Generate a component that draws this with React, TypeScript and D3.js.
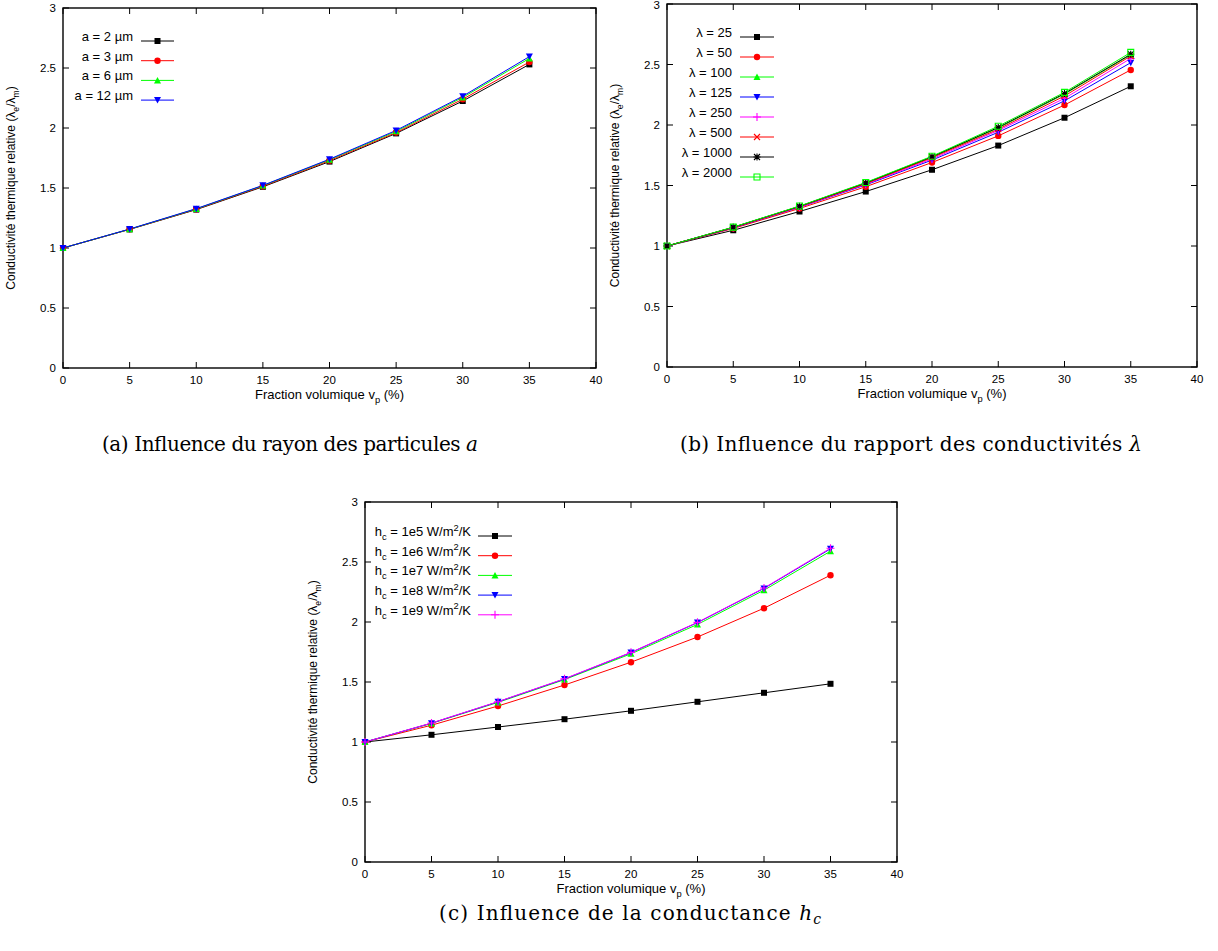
import React, { useEffect, useRef } from 'react';
import * as d3 from 'd3';

// shared axes
const fractions = [0, 5, 10, 15, 20, 25, 30, 35];
const xTicks = [0, 5, 10, 15, 20, 25, 30, 35, 40];
const yTicks = [0, 0.5, 1, 1.5, 2, 2.5, 3];
const xTitle = 'Fraction volumique v_{p} (%)';
const yTitle = 'Conductivité thermique relative (λ_{e}/λ_{m})';

// (a) particle radius
const radiusLabels = ['a = 2 µm', 'a = 3 µm', 'a = 6 µm', 'a = 12 µm'];
const radius2 = [1, 1.155, 1.32, 1.51, 1.72, 1.955, 2.225, 2.53];
const radius3 = [1, 1.156, 1.323, 1.515, 1.728, 1.962, 2.24, 2.55];
const radius6 = [1, 1.157, 1.326, 1.52, 1.736, 1.972, 2.255, 2.58];
const radius12 = [1, 1.158, 1.328, 1.522, 1.74, 1.98, 2.265, 2.595];

// (b) conductivity ratio
const ratioLabels = ['λ = 25', 'λ = 50', 'λ = 100', 'λ = 125', 'λ = 250', 'λ = 500', 'λ = 1000', 'λ = 2000'];
const ratio25 = [1, 1.13, 1.285, 1.45, 1.63, 1.83, 2.06, 2.32];
const ratio50 = [1, 1.145, 1.31, 1.49, 1.69, 1.91, 2.165, 2.455];
const ratio100 = [1, 1.154, 1.327, 1.52, 1.735, 1.975, 2.255, 2.58];
const ratio125 = [1, 1.15, 1.32, 1.505, 1.71, 1.94, 2.2, 2.515];
const ratio250 = [1, 1.152, 1.322, 1.51, 1.72, 1.955, 2.22, 2.55];
const ratio500 = [1, 1.153, 1.325, 1.515, 1.73, 1.965, 2.24, 2.57];
const ratio1000 = [1, 1.155, 1.328, 1.522, 1.738, 1.98, 2.26, 2.585];
const ratio2000 = [1, 1.156, 1.33, 1.525, 1.742, 1.99, 2.27, 2.6];

// (c) interface conductance
const conductLabels = [
  'h_{c} = 1e5 W/m^{2}/K',
  'h_{c} = 1e6 W/m^{2}/K',
  'h_{c} = 1e7 W/m^{2}/K',
  'h_{c} = 1e8 W/m^{2}/K',
  'h_{c} = 1e9 W/m^{2}/K',
];
const conduct1e5 = [1, 1.06, 1.125, 1.19, 1.26, 1.335, 1.41, 1.485];
const conduct1e6 = [1, 1.14, 1.3, 1.475, 1.665, 1.875, 2.115, 2.39];
const conduct1e7 = [1, 1.155, 1.33, 1.52, 1.735, 1.98, 2.265, 2.59];
const conduct1e8 = [1, 1.157, 1.335, 1.525, 1.745, 1.995, 2.28, 2.61];
const conduct1e9 = [1, 1.158, 1.336, 1.527, 1.747, 1.997, 2.283, 2.615];

const FONT = '"Liberation Sans", Arial, sans-serif';
const SERIF = '"DejaVu Serif", serif';

// write "x_{sub}" and "x^{sup}" as tspans
const rich = (sel, str, size) => {
  const re = /([_^])\{([^}]*)\}/g;
  let last = 0;
  let shift = 0;
  let m;
  const add = (t, off) => {
    if (!t) return;
    sel.append('tspan')
      .attr('dy', off - shift)
      .attr('font-size', off === 0 ? size : size * 0.72)
      .text(t);
    shift = off;
  };
  while ((m = re.exec(str))) {
    add(str.slice(last, m.index), 0);
    add(m[2], m[1] === '_' ? size * 0.3 : -size * 0.42);
    last = re.lastIndex;
  }
  add(str.slice(last), 0);
  if (shift !== 0) sel.append('tspan').attr('dy', -shift).text('');
};

const marker = (g, type, x, y, color) => {
  const s = 3;
  if (type === 'circle') {
    g.append('circle').attr('cx', x).attr('cy', y).attr('r', 3.2).attr('fill', color);
    return;
  }
  let d = '';
  let filled = true;
  if (type === 'square') d = `M${-s},${-s}h${2 * s}v${2 * s}h${-2 * s}Z`;
  if (type === 'triUp') d = `M0,${-s - 0.5}L${s + 0.5},${s}L${-s - 0.5},${s}Z`;
  if (type === 'triDown') d = `M0,${s + 0.5}L${s + 0.5},${-s}L${-s - 0.5},${-s}Z`;
  if (type === 'openSquare') { d = `M${-s},${-s}h${2 * s}v${2 * s}h${-2 * s}Z`; filled = false; }
  if (type === 'plus') { d = `M${-s - 1},0H${s + 1}M0,${-s - 1}V${s + 1}`; filled = false; }
  if (type === 'cross') { d = `M${-s},${-s}L${s},${s}M${-s},${s}L${s},${-s}`; filled = false; }
  if (type === 'star') { d = `M${-s - 0.5},0H${s + 0.5}M0,${-s - 0.5}V${s + 0.5}M${-s},${-s}L${s},${s}M${-s},${s}L${s},${-s}`; filled = false; }
  g.append('path')
    .attr('transform', `translate(${x},${y})`)
    .attr('d', d)
    .attr('fill', filled ? color : 'none')
    .attr('stroke', color)
    .attr('stroke-width', filled ? 0 : 1.1);
};

const panels = [
  {
    box: { left: 63, right: 596, top: 8, bottom: 368 },
    labels: radiusLabels,
    values: [radius2, radius3, radius6, radius12],
    colors: ['#000000', '#ff0000', '#00ff00', '#0000ff'],
    markers: ['square', 'circle', 'triUp', 'triDown'],
    legend: { textRight: 133, x1: 141, x2: 174, y0: 41, dy: 19.7 },
    caption: { x: 290, y: 451, width: 376, parts: [['(a) Influence du rayon des particules ', false], ['a', true]] },
  },
  {
    box: { left: 667, right: 1197, top: 4, bottom: 367 },
    labels: ratioLabels,
    values: [ratio25, ratio50, ratio100, ratio125, ratio250, ratio500, ratio1000, ratio2000],
    colors: ['#000000', '#ff0000', '#00ff00', '#0000ff', '#ff00ff', '#ff0000', '#000000', '#00ff00'],
    markers: ['square', 'circle', 'triUp', 'triDown', 'plus', 'cross', 'star', 'openSquare'],
    legend: { textRight: 732, x1: 740, x2: 774, y0: 37, dy: 20 },
    caption: { x: 911, y: 451, width: 462, parts: [['(b) Influence du rapport des conductivités ', false], ['λ', true]] },
  },
  {
    box: { left: 365, right: 897, top: 502, bottom: 862 },
    labels: conductLabels,
    values: [conduct1e5, conduct1e6, conduct1e7, conduct1e8, conduct1e9],
    colors: ['#000000', '#ff0000', '#00ff00', '#0000ff', '#ff00ff'],
    markers: ['square', 'circle', 'triUp', 'triDown', 'plus'],
    legend: { textRight: 471, x1: 478, x2: 512, y0: 536, dy: 19.7 },
    caption: { x: 630, y: 920, width: 382, parts: [['(c) Influence de la conductance ', false], ['h', true], ['c', true, 'sub']] },
  },
];

const Panel = ({ cfg }) => {
  const ref = useRef();

  useEffect(() => {
    const g = d3.select(ref.current);
    g.selectAll('*').remove();
    const { box } = cfg;

    const x = d3.scaleLinear().domain([0, 40]).range([box.left, box.right]);
    const y = d3.scaleLinear().domain([0, 3]).range([box.bottom, box.top]);
    const tick = 6;

    // ticks, mirrored on all four sides
    xTicks.forEach(t => {
      g.append('line').attr('x1', x(t)).attr('x2', x(t)).attr('y1', box.bottom).attr('y2', box.bottom - tick)
        .attr('stroke', '#000').attr('stroke-width', 1);
      g.append('line').attr('x1', x(t)).attr('x2', x(t)).attr('y1', box.top).attr('y2', box.top + tick)
        .attr('stroke', '#000').attr('stroke-width', 1);
      g.append('text')
        .attr('x', x(t))
        .attr('y', box.bottom + 16)
        .attr('text-anchor', 'middle')
        .attr('font-family', FONT)
        .attr('font-size', 11.5)
        .text(t);
    });
    yTicks.forEach(t => {
      g.append('line').attr('x1', box.left).attr('x2', box.left + tick).attr('y1', y(t)).attr('y2', y(t))
        .attr('stroke', '#000').attr('stroke-width', 1);
      g.append('line').attr('x1', box.right).attr('x2', box.right - tick).attr('y1', y(t)).attr('y2', y(t))
        .attr('stroke', '#000').attr('stroke-width', 1);
      g.append('text')
        .attr('x', box.left - 7)
        .attr('y', Math.max(y(t), 5))
        .attr('dy', '0.35em')
        .attr('text-anchor', 'end')
        .attr('font-family', FONT)
        .attr('font-size', 11.5)
        .text(t);
    });

    // frame
    g.append('rect')
      .attr('x', box.left)
      .attr('y', box.top)
      .attr('width', box.right - box.left)
      .attr('height', box.bottom - box.top)
      .attr('fill', 'none')
      .attr('stroke', '#000')
      .attr('stroke-width', 1.4);

    // axis titles
    const xt = g.append('text')
      .attr('x', (box.left + box.right) / 2)
      .attr('y', box.bottom + 31)
      .attr('text-anchor', 'middle')
      .attr('font-family', FONT)
      .attr('font-size', 13);
    rich(xt, xTitle, 13);

    const yt = g.append('text')
      .attr('transform', `translate(${box.left - 48},${(box.top + box.bottom) / 2}) rotate(-90)`)
      .attr('text-anchor', 'middle')
      .attr('font-family', FONT)
      .attr('font-size', 12);
    rich(yt, yTitle, 12);

    const line = d3.line()
      .x((d, i) => x(fractions[i]))
      .y(d => y(d));

    // series
    cfg.values.forEach((vals, k) => {
      g.append('path')
        .datum(vals)
        .attr('fill', 'none')
        .attr('stroke', cfg.colors[k])
        .attr('stroke-width', 1)
        .attr('d', line);
    });
    cfg.values.forEach((vals, k) => {
      vals.forEach((v, i) => marker(g, cfg.markers[k], x(fractions[i]), y(v), cfg.colors[k]));
    });

    // legend
    const lg = cfg.legend;
    cfg.labels.forEach((label, k) => {
      const ly = lg.y0 + k * lg.dy;
      const t = g.append('text')
        .attr('x', lg.textRight)
        .attr('y', ly)
        .attr('dy', '0.35em')
        .attr('text-anchor', 'end')
        .attr('font-family', FONT)
        .attr('font-size', 13);
      rich(t, label, 13);
      g.append('line')
        .attr('x1', lg.x1).attr('x2', lg.x2).attr('y1', ly).attr('y2', ly)
        .attr('stroke', cfg.colors[k]).attr('stroke-width', 1);
      marker(g, cfg.markers[k], (lg.x1 + lg.x2) / 2, ly, cfg.colors[k]);
    });

    // caption
    const cap = g.append('text')
      .attr('x', cfg.caption.x)
      .attr('y', cfg.caption.y)
      .attr('text-anchor', 'middle')
      .attr('font-family', SERIF)
      .attr('font-size', 20)
      .attr('textLength', cfg.caption.width)
      .attr('lengthAdjust', 'spacing');
    cfg.caption.parts.forEach(([txt, italic, pos]) => {
      const sp = cap.append('tspan').text(txt);
      if (italic) sp.attr('font-style', 'italic');
      if (pos === 'sub') sp.attr('dy', 4).attr('font-size', 14);
    });
  }, [cfg]);

  return <g ref={ref} />;
};

const App = () => (
  <svg
    width={1218}
    height={951}
    style={{ position: 'absolute', left: 0, top: 0, background: '#fff' }}
  >
    <rect width={1218} height={951} fill="#fff" />
    {panels.map((p, i) => <Panel key={i} cfg={p} />)}
  </svg>
);

export default App;
